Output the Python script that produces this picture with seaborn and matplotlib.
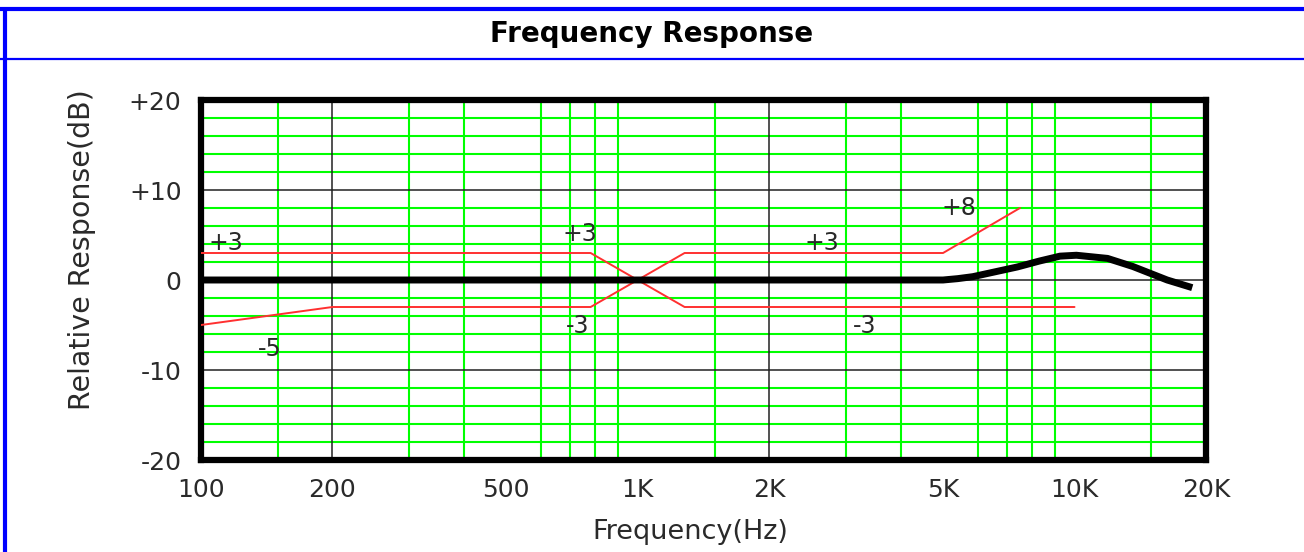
import matplotlib
matplotlib.use("Agg")
import matplotlib.pyplot as plt
from matplotlib.lines import Line2D
from matplotlib.ticker import FixedLocator, NullFormatter
import seaborn as sns

# measured response (Hz, dB)
resp_freq = [100, 5000, 5400, 5850, 7400, 8300, 9260, 10100, 11900, 13600, 16300, 18600]
resp_db = [0, 0, 0.15, 0.37, 1.45, 2.1, 2.65, 2.75, 2.4, 1.5, 0, -0.85]

# tone control limits
bass_cut_freq = [100, 780, 1280, 10000]
bass_cut_db = [3, 3, -3, -3]
treble_boost_freq = [100, 200, 780, 1280, 5000, 7500]
treble_boost_db = [-5, -3, -3, 3, 3, 8]

# annotation labels (text, Hz, dB)
note_text = ["+3", "+3", "+3", "+8", "-5", "-3", "-3"]
note_freq = [114, 737, 2640, 5440, 144, 730, 3300]
note_db = [4.1, 5.1, 4.1, 8.0, -7.7, -5.1, -5.1]

x_ticks = [100, 200, 500, 1000, 2000, 5000, 10000, 20000]
x_labels = ["100", "200", "500", "1K", "2K", "5K", "10K", "20K"]
y_ticks = [-20, -10, 0, 10, 20]
y_labels = ["-20", "-10", "0", "+10", "+20"]
green_x = [150, 300, 400, 500, 600, 700, 800, 900, 1000, 1500,
           3000, 4000, 5000, 6000, 7000, 8000, 9000, 10000, 15000]
green_y = [-18, -16, -14, -12, -8, -6, -4, -2, 2, 4, 6, 8, 12, 14, 16, 18]
black_x = [200, 2000]
black_y = [-10, 0, 10]

sns.set_style("white")
plt.rcParams["font.family"] = ["DejaVu Sans"]
text_col = "#2a2a2a"

fig = plt.figure(figsize=(13.04, 5.52), dpi=100)
ax = fig.add_axes([201 / 1304, 92 / 552, 1005 / 1304, 360 / 552])

ax.set_xscale("log")
ax.set_xlim(100, 20000)
ax.set_ylim(-20, 20)

# grid
ax.xaxis.set_minor_locator(FixedLocator(green_x))
ax.xaxis.set_minor_formatter(NullFormatter())
ax.yaxis.set_minor_locator(FixedLocator(green_y))
ax.grid(False, which="major")
ax.grid(True, which="minor", color="#00ff00", lw=1.5, zorder=0)
ax.set_axisbelow(True)
for f in black_x:
    ax.axvline(f, color="#222222", lw=1.1, zorder=1)
for d in black_y:
    ax.axhline(d, color="#222222", lw=1.1, zorder=1)

sns.lineplot(x=bass_cut_freq, y=bass_cut_db, ax=ax, color="#ff3030", lw=1.4, zorder=3)
sns.lineplot(x=treble_boost_freq, y=treble_boost_db, ax=ax, color="#ff3030", lw=1.4, zorder=3)
sns.lineplot(x=resp_freq, y=resp_db, ax=ax, color="black", lw=5, zorder=4,
             solid_capstyle="butt")

for t, f, d in zip(note_text, note_freq, note_db):
    ax.text(f, d, t, fontsize=17, color=text_col, ha="center", va="center", zorder=5)

ax.set_xticks(x_ticks, x_labels)
ax.set_yticks(y_ticks, y_labels)
ax.tick_params(which="both", length=0)
ax.tick_params(axis="y", pad=14, labelsize=18, labelcolor=text_col)
ax.tick_params(axis="x", pad=13, labelsize=18, labelcolor=text_col)

for s in ax.spines.values():
    s.set_visible(True)
    s.set_color("black")
    s.set_linewidth(4.5)

ax.set_xlabel("Frequency(Hz)", fontsize=19.5, color=text_col)
ax.set_ylabel("Relative Response(dB)", fontsize=20.5, color=text_col)
ax.xaxis.set_label_coords(0.487, -0.165)
ax.yaxis.set_label_coords(-0.104, 0.583)

# page frame and title band
fig.add_artist(Line2D([0, 1], [1 - 8.5 / 552] * 2, transform=fig.transFigure,
                      color="#0000ff", lw=3))
fig.add_artist(Line2D([0, 1], [1 - 58.5 / 552] * 2, transform=fig.transFigure,
                      color="#0000ff", lw=1.6))
fig.add_artist(Line2D([5 / 1304] * 2, [0, 1 - 8.5 / 552], transform=fig.transFigure,
                      color="#0000ff", lw=3))
fig.text(0.5, 1 - 34 / 552, "Frequency Response", ha="center", va="center",
         fontsize=20, fontweight="bold", color="black")

fig.savefig("out.png", dpi=100)
